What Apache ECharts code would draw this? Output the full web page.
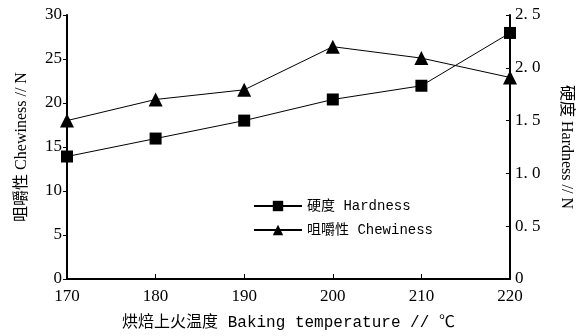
<!DOCTYPE html>
<html><head><meta charset="utf-8">
<script src="https://cdn.jsdelivr.net/npm/echarts@6/dist/echarts.min.js"></script>
<style>html,body{margin:0;padding:0;background:#fff}#c{width:586px;height:336px}</style>
</head><body><div id="c"></div>
<script>
var temperatures = [170, 180, 190, 200, 210, 220];
var hardness = [1.16, 1.33, 1.50, 1.70, 1.83, 2.33];
var chewiness = [18.0, 20.4, 21.5, 26.4, 25.1, 22.9];
var chewTicks = [0, 5, 10, 15, 20, 25, 30];
var hardTicks = [0, 0.5, 1.0, 1.5, 2.0, 2.5];

var serif = '"Liberation Serif","Noto Sans CJK SC",serif';
var mono = '"Liberation Mono","Noto Sans CJK SC",monospace';
var chart = echarts.init(document.getElementById('c'));
function pairs(ys){ return temperatures.map(function(t,i){ return [t, ys[i]]; }); }
chart.setOption({
  animation: false,
  backgroundColor: '#fff',
  grid: {left: 67, right: 76, top: 15, bottom: 56},
  legend: {
    orient: 'vertical', left: 248, top: 194, itemWidth: 48, itemHeight: 13, itemGap: 10,
    textStyle: {fontFamily: mono, fontSize: 14, color: '#000'},
    data: ['硬度 Hardness', '咀嚼性 Chewiness']
  },
  xAxis: {
    type: 'value', min: 170, max: 220, interval: 10,
    name: '烘焙上火温度 Baking temperature // ℃', nameLocation: 'middle', nameGap: 36,
    nameTextStyle: {fontFamily: mono, fontSize: 16, color: '#000'},
    axisLine: {lineStyle: {color: '#000', width: 2}},
    axisTick: {inside: true, length: 5, lineStyle: {color: '#000'}},
    axisLabel: {fontFamily: serif, fontSize: 17, color: '#000', margin: 9},
    splitLine: {show: false}
  },
  yAxis: [{
    type: 'value', min: 0, max: 30, interval: 5, position: 'left',
    name: '咀嚼性 Chewiness // N', nameLocation: 'middle', nameGap: 37, nameRotate: 90,
    nameTextStyle: {fontFamily: serif, fontSize: 16, color: '#000'},
    axisLine: {show: true, lineStyle: {color: '#000', width: 2}},
    axisTick: {show: true, length: 4, lineStyle: {color: '#000'}},
    axisLabel: {fontFamily: serif, fontSize: 17, color: '#000', margin: 5,
      formatter: function(v){ return chewTicks.indexOf(v) >= 0 ? String(v) : ''; }},
    splitLine: {show: false}
  }, {
    type: 'value', min: 0, max: 2.5, interval: 0.5, position: 'right',
    name: '硬度 Hardness // N', nameLocation: 'middle', nameGap: 48, nameRotate: -90,
    nameTextStyle: {fontFamily: serif, fontSize: 16, color: '#000'},
    axisLine: {show: true, lineStyle: {color: '#000', width: 2}},
    axisTick: {show: true, inside: true, length: 4, lineStyle: {color: '#000'}},
    axisLabel: {fontFamily: serif, fontSize: 17, color: '#000', margin: 5,
      formatter: function(v){
        var t = hardTicks.filter(function(h){ return Math.abs(h - v) < 1e-6; });
        if (!t.length) return '';
        return v === 0 ? '0' : v.toFixed(1).replace('.', '. ');
      }},
    splitLine: {show: false}
  }],
  series: [{
    name: '硬度 Hardness', type: 'line', yAxisIndex: 1, data: pairs(hardness),
    symbol: 'rect', symbolSize: 12,
    lineStyle: {color: '#000', width: 1}, itemStyle: {color: '#000'}
  }, {
    name: '咀嚼性 Chewiness', type: 'line', yAxisIndex: 0, data: pairs(chewiness),
    symbol: 'triangle', symbolSize: 14,
    lineStyle: {color: '#000', width: 1}, itemStyle: {color: '#000'}
  }]
});
</script></body></html>
